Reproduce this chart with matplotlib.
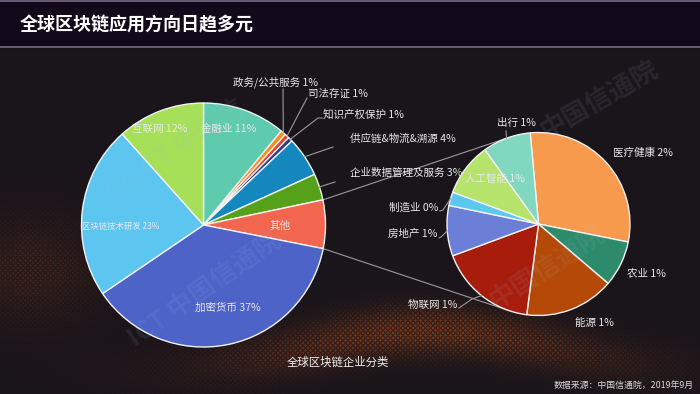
import numpy as np
import matplotlib
matplotlib.use('Agg')
import matplotlib.pyplot as plt
from matplotlib.patches import Rectangle

plt.rcParams['font.family'] = ['Noto Sans CJK SC', 'DejaVu Sans']

# ---------------- data ----------------
title = '全球区块链应用方向日趋多元'
subtitle = '全球区块链企业分类'
source = '数据来源：中国信通院，2019年9月'

main_categories = ['金融业', '政务/公共服务', '司法存证', '知识产权保护', '供应链&物流&溯源',
                   '企业数据管理及服务', '其他', '加密货币', '区块链技术研发', '互联网']
main_values = [11.0, 0.7, 0.6, 0.6, 5.3, 3.5, 6.4, 37.4, 22.9, 11.6]
main_pct = ['11%', '1%', '1%', '1%', '4%', '3%', '', '37%', '23%', '12%']
main_colors = ['#5fcbae', '#f5901e', '#e8432a', '#24398a', '#1488be', '#55a21a',
               '#f2654f', '#4d63c8', '#5cc6f0', '#a6e058']

sub_categories = ['医疗健康', '农业', '能源', '物联网', '房地产', '制造业', '人工智能', '出行']
sub_values = [29.6, 8.1, 15.8, 17.3, 8.9, 2.4, 9.4, 8.5]
sub_pct = ['2%', '1%', '1%', '1%', '1%', '0%', '1%', '1%']
sub_colors = ['#f89a4e', '#2d8a6b', '#b54a08', '#a81c0c', '#6b7fd8', '#5cc8f0',
              '#b6e36c', '#80d8c0']

# ---------------- figure ----------------
W, H = 700, 394
fig = plt.figure(figsize=(7.0, 3.94), dpi=100)
ax = fig.add_axes([0, 0, 1, 1])

# background (decorative)
yy, xx = np.mgrid[0:H, 0:W]
base = np.array([26, 21, 26]) / 255.0
brown = np.array([118, 56, 26]) / 255.0
yc = 372 - 42 * np.exp(-((xx - 430) / 170.0) ** 2)
band = np.exp(-((yy - yc) / 24.0) ** 2) * np.exp(-((xx - 420) / 190.0) ** 2)
band2 = 0.4 * np.exp(-((yy - 270) / 50.0) ** 2) * np.exp(-((xx - 30) / 70.0) ** 2)
dots = (np.cos(2 * np.pi * xx / 5.0) * np.cos(2 * np.pi * yy / 5.0) > 0.2).astype(float)
inten = (band + band2) * (0.4 + 0.6 * dots)
img = base[None, None, :] * (1 - inten[..., None]) + brown[None, None, :] * inten[..., None]
ax.imshow(img, extent=(0, W, H, 0), zorder=0, interpolation='bilinear')

# title bar
ax.add_patch(Rectangle((0, 0), W, 47, color='#120a1a', zorder=1))
ax.plot([0, W], [1.2, 1.2], color='#7a6a88', lw=1.2, zorder=2)
ax.plot([0, W], [47, 47], color='#7a6a88', lw=1.2, zorder=2)
ax.text(20, 25, title, color='white', fontsize=13, fontweight='bold',
        va='center', ha='left', zorder=3)

# watermarks
for (x, y, s, rot) in [(175, 150, 'CAICT 中国信', 33), (205, 290, 'ICT 中国信通院', 35),
                       (548, 268, '中国信通院', 33), (600, 100, '中国信通院', 30)]:
    ax.text(x, y, s, color='#9fc0e0', alpha=0.10, fontsize=19, fontweight='bold',
            rotation=rot, ha='center', va='center', zorder=6)

# pies (y axis inverted: data-counterclockwise == visual clockwise)
L_C, L_R = (203.5, 225.0), 122.0
R_C, R_R = (538.5, 224.0), 91.5
wp = dict(edgecolor='#f2f2f2', linewidth=1.0)
ax.pie(main_values, colors=main_colors, startangle=-90, counterclock=True,
       center=L_C, radius=L_R, wedgeprops=wp, frame=True)
ax.pie(sub_values, colors=sub_colors, startangle=-95.2, counterclock=True,
       center=R_C, radius=R_R, wedgeprops=wp, frame=True)
for p in ax.patches[1:]:
    p.set_zorder(4)

ax.set_xlim(0, W)
ax.set_ylim(H, 0)
ax.set_aspect('auto')
ax.axis('off')

def pt(center, r, ang):
    a = np.deg2rad(ang)
    return center[0] + r * np.cos(a), center[1] - r * np.sin(a)

# connector lines from "其他" to the sub pie
cum = np.cumsum([0] + main_values)
i_other = main_categories.index('其他')
a1 = 90 - 3.6 * cum[i_other]
a2 = 90 - 3.6 * cum[i_other + 1]
lc = '#9a9a9a'
for a_src, a_dst in [(a1, 109), (a2, -109)]:
    x0, y0 = pt(L_C, L_R, a_src)
    x1, y1 = pt(R_C, R_R, a_dst)
    ax.plot([x0, x1], [y0, y1], color=lc, lw=0.8, zorder=3)

tc = '#e8e8e8'
fs = 7.6

def mid_angle(values, idx, start):
    c = np.cumsum([0] + values)
    return start - 3.6 * (c[idx] + values[idx] / 2.0)

# left pie labels with leaders
left_leaders = {
    1: [(283, 89)],
    2: [(307, 98)],
    3: [(318, 118), (322, 118)],
    4: [(333, 147)],
    5: [(335, 182)],
}
left_text_pos = {1: (233, 82), 2: (308, 94), 3: (323, 114), 4: (350, 139), 5: (350, 173)}
for i, pts in left_leaders.items():
    x0, y0 = pt(L_C, L_R, mid_angle(main_values, i, 90))
    xs = [x0] + [p[0] for p in pts]
    ys = [y0] + [p[1] for p in pts]
    ax.plot(xs, ys, color=lc, lw=0.8, zorder=5)
    tx, ty = left_text_pos[i]
    ax.text(tx, ty, f'{main_categories[i]} {main_pct[i]}', color=tc, fontsize=fs,
            ha='left', va='center', zorder=7)

# left pie inner labels
ax.text(160, 129, f'{main_categories[9]} {main_pct[9]}', color=tc, fontsize=fs,
        ha='center', va='center', zorder=7)
ax.text(229, 129, f'{main_categories[0]} {main_pct[0]}', color=tc, fontsize=fs,
        ha='center', va='center', zorder=7)
ax.text(82, 226, f'{main_categories[8]} {main_pct[8]}', color=tc, fontsize=6,
        ha='left', va='center', zorder=7)
ax.text(280, 226, main_categories[6], color=tc, fontsize=fs,
        ha='center', va='center', zorder=7)
ax.text(228, 308, f'{main_categories[7]} {main_pct[7]}', color=tc, fontsize=fs,
        ha='center', va='center', zorder=7)

# right pie labels
sub_text = {0: (613, 153, 'left'), 1: (627, 273, 'left'), 2: (575, 323, 'left'),
            3: (457, 305, 'right'), 4: (437, 234, 'right'), 5: (438, 208, 'right'),
            6: (465, 179, 'left'), 7: (497, 123, 'left')}
for i, (tx, ty, ha) in sub_text.items():
    ax.text(tx, ty, f'{sub_categories[i]} {sub_pct[i]}', color=tc, fontsize=fs,
            ha=ha, va='center', zorder=7)

sub_leaders = {3: [(472, 299), (459, 308)], 4: [(441, 237), (439, 238)],
               5: [(443, 210), (440, 211)], 7: [(506, 131)]}
for i, pts in sub_leaders.items():
    x0, y0 = pt(R_C, R_R, mid_angle(sub_values, i, 95.2))
    xs = [x0] + [p[0] for p in pts]
    ys = [y0] + [p[1] for p in pts]
    ax.plot(xs, ys, color=lc, lw=0.8, zorder=5)

ax.text(338, 362, subtitle, color='#f0f0f0', fontsize=8.2, ha='center', va='center', zorder=7)
ax.text(694, 385, source, color='#d8d8d8', fontsize=6.4, ha='right', va='center', zorder=7)

fig.savefig('out.png', dpi=100, facecolor='#1b161b')
